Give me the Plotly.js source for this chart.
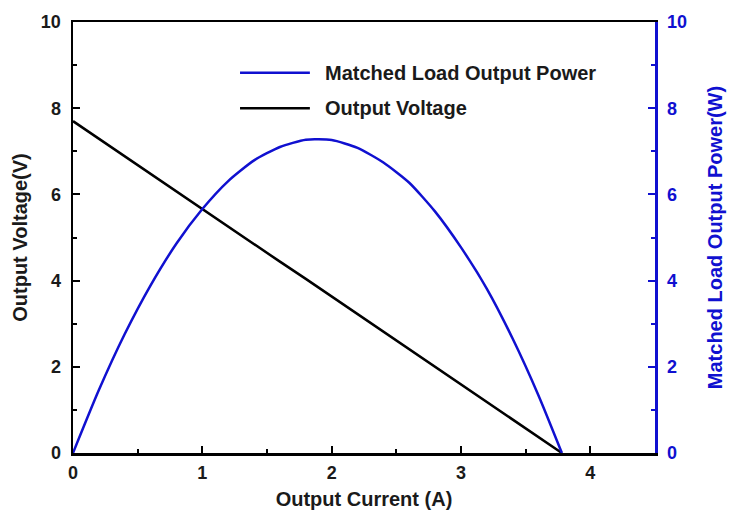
<!DOCTYPE html>
<html>
<head>
<meta charset="utf-8">
<script src="https://cdn.plot.ly/plotly-3.0.1.min.js"></script>
<style>html,body{margin:0;padding:0;background:#fff}#chart{width:732px;height:517px}</style>
</head>
<body>
<div id="chart"></div>
<script>
const current = [0, 0.2, 0.4, 0.6, 0.8, 1.0, 1.2, 1.4, 1.6, 1.8, 2.0, 2.2, 2.4, 2.6, 2.8, 3.0, 3.2, 3.4, 3.6, 3.78];
const voltage = [7.7, 7.29, 6.89, 6.48, 6.07, 5.66, 5.26, 4.85, 4.44, 4.04, 3.63, 3.22, 2.81, 2.41, 2.0, 1.59, 1.19, 0.78, 0.37, 0];
const power = [0, 1.46, 2.76, 3.89, 4.86, 5.66, 6.31, 6.79, 7.10, 7.27, 7.26, 7.08, 6.74, 6.27, 5.6, 4.77, 3.81, 2.65, 1.33, 0];
const seriesNames = ["Matched Load Output Power", "Output Voltage"];
const xTicks = [0, 1, 2, 3, 4];
const yTicks = [0, 2, 4, 6, 8, 10];

const BLUE = "#1010d0";
const DARK = "#1a1a1a";
const FONT = "Liberation Sans, Arial, sans-serif";

const traces = [
  {x: current, y: voltage, type: "scatter", mode: "lines", name: seriesNames[1],
   line: {color: "#000", width: 2.5}, yaxis: "y", showlegend: false},
  {x: current, y: power, type: "scatter", mode: "lines", name: seriesNames[0],
   line: {color: BLUE, width: 2.5, shape: "spline", smoothing: 0.6}, yaxis: "y2", showlegend: false}
];

const tickFont = {family: FONT, size: 18, color: DARK, weight: "bold"};
const titleFont = {family: FONT, size: 20, color: DARK, weight: "bold"};

const layout = {
  width: 732, height: 517,
  margin: {l: 73, r: 77, t: 22, b: 64},
  paper_bgcolor: "#fff", plot_bgcolor: "#fff",
  showlegend: false,
  xaxis: {
    range: [0, 4.5], tickvals: xTicks, ticktext: xTicks.map(String),
    ticks: "inside", ticklen: 7, tickwidth: 2, tickcolor: "#000",
    minor: {dtick: 0.5, ticks: "inside", ticklen: 4, tickwidth: 2, tickcolor: "#000"},
    showline: true, linecolor: "#000", linewidth: 2.5, mirror: true,
    showgrid: false, zeroline: false,
    tickfont: tickFont, ticklabelstandoff: 2,
    title: {text: "Output Current (A)", font: titleFont, standoff: 10}
  },
  yaxis: {
    range: [0, 10], tickvals: yTicks, ticktext: yTicks.map(String),
    ticks: "inside", ticklen: 7, tickwidth: 2, tickcolor: "#000",
    minor: {dtick: 1, ticks: "inside", ticklen: 4, tickwidth: 2, tickcolor: "#000"},
    showline: true, linecolor: "#000", linewidth: 2.5,
    showgrid: false, zeroline: false,
    tickfont: tickFont, ticklabelstandoff: 6,
    title: {text: "Output Voltage(V)", font: titleFont, standoff: 8}
  },
  yaxis2: {
    range: [0, 10], tickvals: yTicks, ticktext: yTicks.map(String),
    overlaying: "y", side: "right",
    ticks: "inside", ticklen: 7, tickwidth: 2, tickcolor: BLUE,
    minor: {dtick: 1, ticks: "inside", ticklen: 4, tickwidth: 2, tickcolor: BLUE},
    showline: true, linecolor: BLUE, linewidth: 2.5,
    showgrid: false, zeroline: false,
    tickfont: {family: FONT, size: 18, color: BLUE, weight: "bold"}, ticklabelstandoff: 6,
    title: {text: "Matched Load Output Power(W)", font: {family: FONT, size: 20, color: BLUE, weight: "bold"}, standoff: 22}
  },
  shapes: [
    {type: "line", xref: "paper", yref: "paper", x0: 0.287, x1: 0.407, y0: 0.882, y1: 0.882, line: {color: BLUE, width: 2.5}},
    {type: "line", xref: "paper", yref: "paper", x0: 0.287, x1: 0.407, y0: 0.800, y1: 0.800, line: {color: "#000", width: 2.5}}
  ],
  annotations: [
    {xref: "paper", yref: "paper", x: 0.43, y: 0.882, xanchor: "left", yanchor: "middle", showarrow: false,
     text: seriesNames[0], font: titleFont},
    {xref: "paper", yref: "paper", x: 0.43, y: 0.800, xanchor: "left", yanchor: "middle", showarrow: false,
     text: seriesNames[1], font: titleFont}
  ]
};

Plotly.newPlot("chart", traces, layout, {displayModeBar: false, staticPlot: true});
</script>
</body>
</html>
